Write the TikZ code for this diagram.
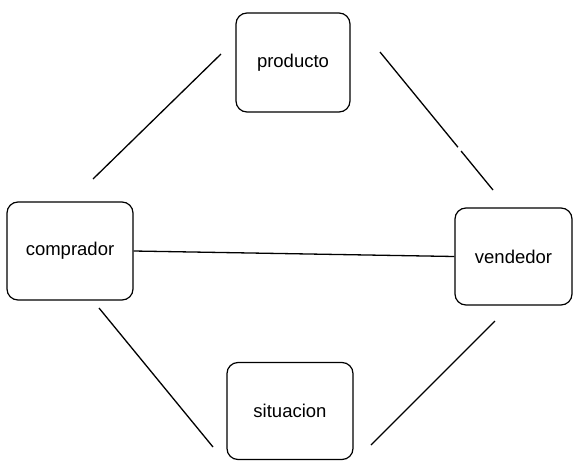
\documentclass[tikz,border=0pt]{standalone}
\usepackage{fontspec}
\setmainfont{Liberation Sans}
\begin{document}
\begin{tikzpicture}[x=1pt,y=-1pt,
  rolebox/.style={draw, line width=1.2pt, rounded corners=11pt, inner sep=0pt,
    font=\fontsize{18.5}{22}\selectfont},
  link/.style={line width=1.3pt}]
\useasboundingbox (0,0) rectangle (574,461);
% the four roles of the exchange
\node[rolebox, minimum width=114, minimum height=99] (producto) at (293,62.5) {producto};
\node[rolebox, minimum width=126, minimum height=98] (comprador) at (70,251) {comprador};
\node[rolebox, minimum width=117, minimum height=97] (vendedor) at (513.5,256.5) {vendedor};
\node[rolebox, minimum width=126, minimum height=97] (situacion) at (290,411) {situacion};
% relations between the roles
\draw[link] ([shift={(23,-72)}]comprador.center) -- ([shift={(-72,-8.5)}]producto.center);
\draw[link, dash pattern=on 123 off 5 on 80] ([shift={(87,-10.5)}]producto.center) -- ([shift={(-20.5,-66.5)}]vendedor.center);
\draw[link] (comprador.east) -- (vendedor.west);
\draw[link] ([shift={(29,57)}]comprador.center) -- ([shift={(-77,36)}]situacion.center);
\draw[link] ([shift={(-18.5,64.5)}]vendedor.center) -- ([shift={(81,34)}]situacion.center);
\end{tikzpicture}
\end{document}
